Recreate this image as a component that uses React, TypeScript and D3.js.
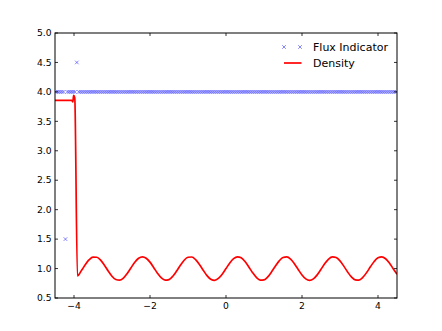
import React, { useEffect, useRef } from 'react'
import * as d3 from 'd3'

// tick labels
const xTicks = [-4, -2, 0, 2, 4]
const yTicks = [0.5, 1.0, 1.5, 2.0, 2.5, 3.0, 3.5, 4.0, 4.5, 5.0]

// flux indicator: cell centres and the level it sits at, plus the two odd cells
const fluxStart = -4.475
const fluxStep = 0.05
const fluxCount = 180
const fluxLevel = 4.0
const fluxOutlierX = [-4.225, -3.925]
const fluxOutlierY = [1.5, 4.5]

// density
const densityX = [
  -4.5, -4.06, -4.03, -4.01, -3.98, -3.91,
  -3.8, -3.7, -3.6, -3.5, -3.4, -3.3, -3.2, -3.1, -3.0,
  -2.9, -2.8, -2.7, -2.6, -2.5, -2.4, -2.3, -2.2, -2.1, -2.0,
  -1.9, -1.8, -1.7, -1.6, -1.5, -1.4, -1.3, -1.2, -1.1, -1.0,
  -0.9, -0.8, -0.7, -0.6, -0.5, -0.4, -0.3, -0.2, -0.1, 0.0,
  0.1, 0.2, 0.3, 0.4, 0.5, 0.6, 0.7, 0.8, 0.9, 1.0,
  1.1, 1.2, 1.3, 1.4, 1.5, 1.6, 1.7, 1.8, 1.9, 2.0,
  2.1, 2.2, 2.3, 2.4, 2.5, 2.6, 2.7, 2.8, 2.9, 3.0,
  3.1, 3.2, 3.3, 3.4, 3.5, 3.6, 3.7, 3.8, 3.9, 4.0,
  4.1, 4.2, 4.3, 4.4, 4.5,
]
const densityY = [
  3.857, 3.857, 3.83, 3.94, 3.9, 0.875,
  0.97, 1.069, 1.15, 1.195, 1.192, 1.142, 1.058, 0.959, 0.87,
  0.813, 0.802, 0.839, 0.916, 1.013, 1.107, 1.175, 1.2, 1.176, 1.109,
  1.015, 0.918, 0.84, 0.802, 0.812, 0.869, 0.957, 1.056, 1.141, 1.192,
  1.196, 1.151, 1.07, 0.972, 0.88, 0.818, 0.8, 0.832, 0.904, 1.0,
  1.096, 1.168, 1.2, 1.182, 1.12, 1.028, 0.93, 0.849, 0.804, 0.808,
  0.859, 0.944, 1.043, 1.131, 1.188, 1.198, 1.16, 1.082, 0.985, 0.891,
  0.824, 0.8, 0.825, 0.893, 0.987, 1.084, 1.161, 1.198, 1.187, 1.13,
  1.041, 0.942, 0.858, 0.808, 0.805, 0.85, 0.931, 1.03, 1.121, 1.183,
  1.199, 1.167, 1.094, 0.998, 0.903,
]

const W = 442
const H = 331
const margin = { left: 55, right: 45, top: 33, bottom: 33 }
const font = 'DejaVu Sans, sans-serif'

const App = () => {
  const ref = useRef<SVGSVGElement>(null)

  useEffect(() => {
    const svg = d3.select(ref.current)
    svg.selectAll('*').remove()

    const x = d3.scaleLinear().domain([-4.5, 4.5]).range([margin.left, W - margin.right])
    const y = d3.scaleLinear().domain([0.5, 5.0]).range([H - margin.bottom, margin.top])

    const plot = svg.append('g')
    plot.append('clipPath').attr('id', 'clip')
      .append('rect')
      .attr('x', margin.left).attr('y', margin.top)
      .attr('width', W - margin.left - margin.right)
      .attr('height', H - margin.top - margin.bottom)

    // flux markers
    const flux = d3.range(fluxCount).map(i => {
      const fx = fluxStart + i * fluxStep
      const k = fluxOutlierX.findIndex(o => Math.abs(o - fx) < 1e-6)
      return { x: fx, y: k >= 0 ? fluxOutlierY[k] : fluxLevel }
    })
    const s = 1.8
    const cross = (cx: number, cy: number) =>
      `M${cx - s},${cy - s}L${cx + s},${cy + s}M${cx - s},${cy + s}L${cx + s},${cy - s}`

    plot.append('g').attr('clip-path', 'url(#clip)')
      .selectAll('path')
      .data(flux)
      .enter()
      .append('path')
      .attr('d', d => cross(x(d.x), y(d.y)))
      .attr('stroke', '#0000ff')
      .attr('stroke-opacity', 0.6)
      .attr('stroke-width', 0.8)
      .attr('fill', 'none')

    // density curve
    const line = d3.line<number>()
      .x((_, i) => x(densityX[i]))
      .y(d => y(d))
      .curve(d3.curveMonotoneX)

    plot.append('path')
      .attr('clip-path', 'url(#clip)')
      .attr('d', line(densityY))
      .attr('fill', 'none')
      .attr('stroke', '#ff0000')
      .attr('stroke-width', 1.7)
      .attr('stroke-linejoin', 'round')

    // frame
    svg.append('rect')
      .attr('x', margin.left).attr('y', margin.top)
      .attr('width', W - margin.left - margin.right)
      .attr('height', H - margin.top - margin.bottom)
      .attr('fill', 'none')
      .attr('stroke', '#000')
      .attr('stroke-width', 1)

    // ticks point inward, on all four sides
    const tl = 3
    const tk = svg.append('g').attr('stroke', '#000').attr('stroke-width', 0.8)
    xTicks.forEach(t => {
      tk.append('line').attr('x1', x(t)).attr('x2', x(t)).attr('y1', y(0.5)).attr('y2', y(0.5) - tl)
      tk.append('line').attr('x1', x(t)).attr('x2', x(t)).attr('y1', y(5)).attr('y2', y(5) + tl)
    })
    yTicks.forEach(t => {
      tk.append('line').attr('y1', y(t)).attr('y2', y(t)).attr('x1', x(-4.5)).attr('x2', x(-4.5) + tl)
      tk.append('line').attr('y1', y(t)).attr('y2', y(t)).attr('x1', x(4.5)).attr('x2', x(4.5) - tl)
    })

    svg.append('g').selectAll('text')
      .data(xTicks)
      .enter()
      .append('text')
      .attr('x', d => x(d))
      .attr('y', y(0.5) + 10.5)
      .attr('text-anchor', 'middle')
      .attr('font-family', font)
      .attr('font-size', 9.2)
      .text(d => (d < 0 ? '\u2212' + Math.abs(d) : String(d)))

    svg.append('g').selectAll('text')
      .data(yTicks)
      .enter()
      .append('text')
      .attr('x', margin.left - 3.5)
      .attr('y', d => y(d))
      .attr('dy', '0.35em')
      .attr('text-anchor', 'end')
      .attr('font-family', font)
      .attr('font-size', 9.2)
      .text(d => d.toFixed(1))

    // legend, no frame
    const lg = svg.append('g')
    ;[284, 300].forEach(lx => {
      lg.append('path').attr('d', cross(lx, 47))
        .attr('stroke', '#0000ff').attr('stroke-opacity', 0.6)
        .attr('stroke-width', 0.8).attr('fill', 'none')
    })
    lg.append('line').attr('x1', 284).attr('x2', 301.5).attr('y1', 63).attr('y2', 63)
      .attr('stroke', '#ff0000').attr('stroke-width', 1.7)
    lg.append('text').attr('x', 313).attr('y', 47).attr('dy', '0.35em')
      .attr('font-family', font).attr('font-size', 11).text('Flux Indicator')
    lg.append('text').attr('x', 313).attr('y', 63).attr('dy', '0.35em')
      .attr('font-family', font).attr('font-size', 11).text('Density')
  }, [])

  return (
    <svg ref={ref} width={W} height={H}
      style={{ position: 'absolute', left: 0, top: 0, background: '#fff' }} />
  )
}

export default App
